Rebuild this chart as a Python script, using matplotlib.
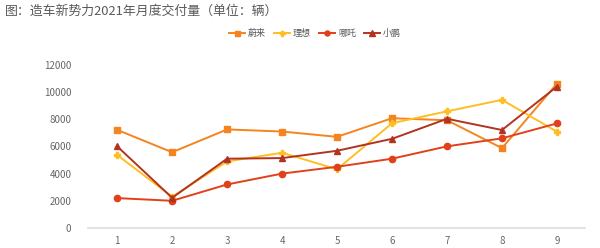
import matplotlib.pyplot as plt

plt.rcParams["font.family"] = ["Noto Sans CJK SC", "DejaVu Sans"]

months = [1, 2, 3, 4, 5, 6, 7, 8, 9]
nio = [7225, 5578, 7257, 7102, 6711, 8083, 7931, 5880, 10628]
li = [5379, 2300, 4900, 5539, 4323, 7713, 8589, 9433, 7094]
neta = [2201, 2003, 3206, 4006, 4508, 5102, 6011, 6600, 7700]
xpeng = [6015, 2223, 5102, 5147, 5686, 6565, 8040, 7214, 10412]
y_ticks = [0, 2000, 4000, 6000, 8000, 10000, 12000]

fig = plt.figure(figsize=(6, 2.48), dpi=100)
ax = fig.add_axes([88 / 600, 20 / 248, 497 / 600, 163 / 248])

# series: label, values, colour, marker
series = [
    ("蔚来", nio, "#F5841F", "s", 4.5),
    ("理想", li, "#FFBE22", "P", 4.5),
    ("哪吒", neta, "#E0411B", "o", 4.5),
    ("小鹏", xpeng, "#B23420", "^", 5),
]
for name, vals, col, mk, ms in series:
    ax.plot(months, vals, color=col, marker=mk, markersize=ms, linewidth=1.4,
            label=name)

ax.set_xlim(0.47, 9.51)
ax.set_ylim(0, 12000)
ax.set_xticks(months)
ax.set_yticks(y_ticks)
ax.tick_params(length=0, labelsize=7, colors="#666666", pad=6)
ax.tick_params(axis="y", pad=12)
for s in ["top", "right", "left"]:
    ax.spines[s].set_visible(False)
ax.spines["bottom"].set_color("#dddddd")
ax.spines["bottom"].set_linewidth(1.2)

fig.text(0.008, 0.955, "图：造车新势力2021年月度交付量（单位：辆）", fontsize=9.3,
         color="#595959", va="center", ha="left")
fig.legend(loc="center", bbox_to_anchor=(0.525, 0.865), ncol=4, frameon=False,
           fontsize=6.5, labelcolor="#555555", handlelength=1.8, handletextpad=0.3,
           columnspacing=0.9, markerscale=0.8)

fig.savefig("out.png", dpi=100, facecolor="white")
